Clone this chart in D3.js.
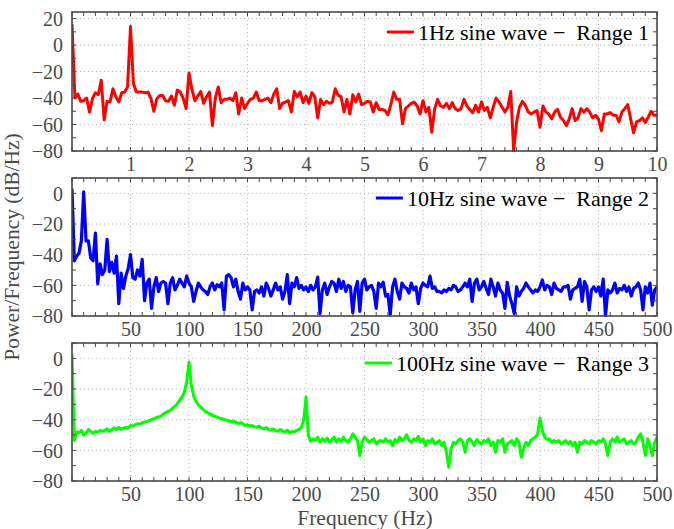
<!DOCTYPE html>
<html>
<head>
<meta charset="utf-8">
<script src="https://cdn.jsdelivr.net/npm/d3@7"></script>
<style>
  body { margin: 0; background: #fff; }
  text { font-family: "Liberation Serif", "Times New Roman", serif; }
</style>
</head>
<body>
<div id="chart"></div>
<script>
const WIDTH = 674, HEIGHT = 529;
const PLOT_LEFT = 72, PLOT_RIGHT = 657;

// PSD of the 1 Hz sine, 0..10 Hz every 0.05 Hz
const psd1Hz = [16,-40,-37,-42.5,-42,-40,-50.6,-40.5,-36,-37.5,
  -26.6,-56.5,-42.5,-43,-33,-39,-43,-36,-35.5,-31.6,
  14,-29,-35.5,-35.5,-35.5,-36,-35.5,-40.5,-50,-40.5,
  -38,-38,-42,-42.5,-38.5,-45.5,-34,-35.5,-40,-48,
  -21,-33.5,-42,-38.5,-35,-44,-39,-35.5,-60.8,-40,
  -31.6,-43.5,-41,-41,-40,-42,-36,-52,-40,-48,
  -44,-41,-40,-35.5,-42,-42,-41,-40,-43.5,-37,
  -33,-48,-44,-43,-42,-50.6,-35,-39,-35.5,-43.5,
  -38.5,-44,-36,-39,-55,-41,-45,-42.5,-44,-43,
  -33,-38,-39,-50.6,-41,-52,-37.5,-43,-37,-45,
  -44,-42.5,-43,-50.6,-43.5,-48.6,-48.6,-49.4,-52.7,-45,
  -35.5,-41,-41,-59.5,-48,-46,-44,-43,-46,-52,
  -42,-50.6,-47,-65.8,-48,-41,-46,-47,-44,-48,
  -43.5,-48,-49.4,-48,-41,-46,-48.6,-51,-45.5,-50.6,
  -43,-49.4,-47,-55,-47,-40,-43,-46.8,-50.6,-47,
  -35,-80,-58,-46.8,-42.5,-45.5,-50.6,-52,-50.6,-49.4,
  -62,-46,-50.6,-52,-55.7,-50.6,-48.6,-54.4,-57,-60.8,
  -55.7,-48,-57,-55,-48,-50.6,-48,-50.6,-55,-53,
  -56,-64.6,-52,-52,-51,-53,-53,-58,-50.6,-48,
  -45,-55.7,-66.3,-58,-57,-55,-58.5,-54.4,-50,-53,
  -53];

// PSD of the 10 Hz sine, 0..500 Hz every 2 Hz
const psd10Hz = [3,-44,-41,-39,-31,1,-31,-31,-42,-44,
  -26,-59,-46,-53,-50,-30,-51,-45,-52,-41,
  -72,-52,-62,-54,-49,-40,-55,-56,-50,-54,
  -43,-70,-58.5,-56,-75,-61,-55,-64,-58.5,-57.5,
  -58.5,-72,-58.5,-55,-63,-60,-56,-58.5,-61,-54,
  -58.5,-61,-70.5,-64,-58.5,-61,-63,-64,-66,-61,
  -58.5,-63,-59.6,-61,-58.5,-76,-54,-53,-55,-61,
  -56,-64,-69,-58.5,-63,-61,-63,-76,-64,-63,
  -65,-61,-67,-58.5,-62,-67,-63,-58.5,-63,-61,
  -69,-64,-53,-72,-58.5,-61,-55,-62,-60,-63,
  -61,-64,-60,-63,-61,-54.6,-78.5,-63,-58.5,-66,
  -61,-57.5,-58.5,-64,-56,-62,-57.5,-64,-60,-61,
  -78,-63,-57.5,-77,-58.5,-56,-63,-61,-60,-64,
  -75,-58.5,-61,-58,-67,-66,-79,-61,-56,-64,
  -69,-58.5,-61,-62,-65,-58.5,-63,-61,-72,-62,
  -58.5,-60,-61,-54,-62,-61,-64,-64,-65,-63,
  -64,-62,-63,-60,-61,-64,-63,-61,-58.5,-61,
  -56,-70.5,-58.5,-56,-63,-61,-57.5,-62,-66,-56,
  -61,-67,-58.5,-63,-65,-75,-58,-67,-72,-78.5,
  -61,-67,-64,-62,-58.5,-61,-63,-65,-63,-64,
  -61,-56.5,-63,-60,-61,-66,-58.5,-62,-63,-64,
  -61,-61,-60,-69,-63,-62,-61,-56,-70.5,-57.5,
  -61,-76,-63,-61,-64,-61,-67,-56,-80,-63,
  -65,-63,-58.5,-65,-62,-63,-60,-64,-61,-67,
  -62,-61,-58.5,-63,-76,-61,-65,-58.5,-73,-63,
  -61];

// PSD of the 100 Hz sine, 0..500 Hz every 2 Hz
const psd100Hz = [3,-53.6,-48,-48.5,-47,-50,-49,-46.4,-47.7,-49,
  -47.7,-48,-47,-47.7,-47,-46,-47.7,-46.4,-45.5,-46.4,
  -45,-46.4,-45.5,-45,-45.5,-43.8,-44.2,-43.3,-42.7,-42.9,
  -42,-41.6,-41.2,-40.7,-40,-39.4,-38.6,-38.3,-37.7,-36.4,
  -35.5,-34.6,-34,-32.5,-31.2,-29.6,-27.5,-25.3,-22,-15.5,
  -2.4,-17.6,-24.6,-28,-30.3,-31.8,-33.3,-34.6,-35.5,-36.2,
  -37.3,-37.7,-38.3,-39,-39.4,-39.9,-40.3,-40.7,-41.2,-41,
  -41.6,-42.5,-42,-42.7,-43.8,-43.3,-44.2,-43.8,-44.7,-44.9,
  -44.2,-45.5,-46,-45.1,-46.4,-46.8,-46,-47.1,-47.7,-46.4,
  -47.3,-48.1,-46.8,-48.6,-47.7,-48.1,-47.1,-46.4,-44.9,-40.5,
  -25.3,-50.3,-54,-52.5,-53.6,-51.4,-54.7,-52.5,-54.2,-52,
  -54.7,-52.9,-51.4,-54.7,-52.5,-54.2,-51.4,-53.6,-54.7,-52.5,
  -49.2,-51.4,-53.6,-63.4,-54.7,-51.4,-52.9,-54.7,-53.6,-52.5,
  -55.8,-54.2,-53.6,-54.7,-52.5,-54.7,-53.6,-56.9,-52.9,-54.7,
  -51.4,-53.6,-52.5,-49.9,-53.6,-54.7,-52.5,-53.6,-50.8,-54.7,
  -52.5,-56.9,-53.6,-54.7,-52.5,-55.8,-54.7,-53.6,-56.9,-54.7,
  -61.2,-71,-59,-54.7,-55.8,-53.6,-52.5,-54.7,-61.2,-53.6,
  -52.5,-54.7,-56.9,-52.9,-54.7,-55.8,-53.6,-54.7,-52.5,-56.9,
  -54.7,-61.2,-53.6,-54.7,-52.5,-61.2,-55.8,-54.7,-53.6,-56.9,
  -52.5,-54.7,-64.5,-59,-54.7,-56.9,-53.6,-52.5,-51.4,-49.2,
  -39,-47.1,-51.4,-52.9,-52.5,-54.7,-53.6,-54.7,-53.6,-55.8,
  -54.7,-53.6,-55.8,-54.2,-56.9,-54.7,-61.2,-54.7,-55.8,-53.6,
  -54.7,-55.8,-53.6,-54.7,-55.8,-53.6,-54.7,-52.5,-55.8,-63.4,
  -54.7,-52.5,-54.7,-51.4,-54.7,-53.6,-52.5,-55.8,-54.7,-53.6,
  -55.8,-54.7,-51.4,-49.2,-54.7,-63.4,-52.5,-56.9,-63.4,-54.7,
  -51.4];

const legendNames = ["1Hz sine wave \u2212  Range 1", "10Hz sine wave \u2212  Range 2", "100Hz sine wave \u2212  Range 3"];
const lineColors = ["#ff0000", "#0000ff", "#00ff00"];
const xTicksRange1 = [1, 2, 3, 4, 5, 6, 7, 8, 9, 10];
const xTicksHz = [50, 100, 150, 200, 250, 300, 350, 400, 450, 500];
const yTicksTop = [20, 0, -20, -40, -60, -80];
const yTicks = [0, -20, -40, -60, -80];

const svg = d3.select("#chart").append("svg")
  .attr("width", WIDTH).attr("height", HEIGHT);

const panels = [
  { data: psd1Hz, step: 0.05, xMax: 10, yDom: [-80, 25], top: 12, bottom: 151, xTicks: xTicksRange1, minorX: 0.2, yT: yTicksTop },
  { data: psd10Hz, step: 2, xMax: 500, yDom: [-80, 10], top: 178, bottom: 316, xTicks: xTicksHz, minorX: 10, yT: yTicks },
  { data: psd100Hz, step: 2, xMax: 500, yDom: [-80, 10], top: 343, bottom: 481, xTicks: xTicksHz, minorX: 10, yT: yTicks }
];

const FRAME = "#474747", LABEL = "#4a4a4a";

panels.forEach((p, k) => {
  const x = d3.scaleLinear().domain([0, p.xMax]).range([PLOT_LEFT, PLOT_RIGHT]);
  const y = d3.scaleLinear().domain(p.yDom).range([p.bottom, p.top]);
  const h = p.bottom - p.top, w = PLOT_RIGHT - PLOT_LEFT;
  const g = svg.append("g");
  const minorX = d3.range(0, p.xMax + 1e-9, p.minorX);
  const minorY = d3.range(-80, p.yDom[1] + 1e-9, 10);

  // grid
  const grid = g.append("g").attr("stroke", "#b5b5b5").attr("stroke-width", 1).attr("stroke-dasharray", "1,3");
  grid.selectAll("line.gx").data(p.xTicks.filter(v => v < p.xMax)).join("line")
    .attr("x1", d => x(d)).attr("x2", d => x(d)).attr("y1", p.top).attr("y2", p.bottom);
  grid.selectAll("line.gy").data(p.yT.filter(v => v > -80 && v < p.yDom[1])).join("line")
    .attr("x1", PLOT_LEFT).attr("x2", PLOT_RIGHT).attr("y1", d => y(d)).attr("y2", d => y(d));

  // data line, clipped to the plot box
  const clipId = "clip" + k;
  svg.append("clipPath").attr("id", clipId).append("rect")
    .attr("x", PLOT_LEFT).attr("y", p.top - 1).attr("width", w).attr("height", h + 2);
  g.append("path")
    .datum(p.data)
    .attr("clip-path", "url(#" + clipId + ")")
    .attr("d", d3.line().x((d, i) => x(i * p.step)).y(d => y(d)))
    .attr("fill", "none")
    .attr("stroke", lineColors[k])
    .attr("stroke-width", k === 1 ? 3.2 : 3)
    .attr("stroke-linejoin", "round");

  // inward ticks on all four sides
  const ticks = g.append("g").attr("stroke", FRAME).attr("stroke-width", 1);
  const tickSet = (vals, len) => {
    vals.forEach(v => {
      ticks.append("line").attr("x1", x(v)).attr("x2", x(v)).attr("y1", p.bottom).attr("y2", p.bottom - len);
      ticks.append("line").attr("x1", x(v)).attr("x2", x(v)).attr("y1", p.top).attr("y2", p.top + len);
    });
  };
  const tickSetY = (vals, len) => {
    vals.forEach(v => {
      ticks.append("line").attr("y1", y(v)).attr("y2", y(v)).attr("x1", PLOT_LEFT).attr("x2", PLOT_LEFT + len);
      ticks.append("line").attr("y1", y(v)).attr("y2", y(v)).attr("x1", PLOT_RIGHT).attr("x2", PLOT_RIGHT - len);
    });
  };
  tickSet(minorX, 4);
  tickSetY(minorY, 4);

  // frame
  g.append("rect").attr("x", PLOT_LEFT).attr("y", p.top).attr("width", w).attr("height", h)
    .attr("fill", "none").attr("stroke", FRAME).attr("stroke-width", 1.6);

  // tick labels via d3 axes
  const xa = g.append("g").attr("transform", "translate(0," + p.bottom + ")")
    .call(d3.axisBottom(x).tickValues(p.xTicks).tickSize(0).tickPadding(6));
  const ya = g.append("g").attr("transform", "translate(" + PLOT_LEFT + ",0)")
    .call(d3.axisLeft(y).tickValues(p.yT).tickSize(0).tickPadding(9));
  [xa, ya].forEach(a => {
    a.select(".domain").remove();
    a.selectAll("text").attr("fill", LABEL).style("font-size", "20px")
      .style("font-family", '"Liberation Serif", "Times New Roman", serif');
  });
  ya.selectAll("text").attr("dy", "0.34em");
  xa.selectAll("text").attr("dy", "0.72em");

  // legend
  const lg = g.append("g");
  const lt = lg.append("text").attr("x", 649).attr("y", p.top + 20).attr("dy", "0.35em")
    .attr("text-anchor", "end").attr("fill", "#000").style("font-size", "22px")
    .style("white-space", "pre")
    .text(legendNames[k]);
  const tw = lt.node().getComputedTextLength();
  lg.append("line").attr("x1", 649 - tw - 31).attr("x2", 649 - tw - 4)
    .attr("y1", p.top + 20).attr("y2", p.top + 20)
    .attr("stroke", lineColors[k]).attr("stroke-width", 3);
});

// shared axis labels
svg.append("text").attr("x", 365).attr("y", 525)
  .attr("text-anchor", "middle").attr("fill", LABEL).style("font-size", "21.5px")
  .text("Frequency (Hz)");
svg.append("text").attr("transform", "translate(19,247) rotate(-90)")
  .attr("text-anchor", "middle").attr("fill", LABEL).style("font-size", "21.5px")
  .text("Power/Frequency (dB/Hz)");
</script>
</body>
</html>
